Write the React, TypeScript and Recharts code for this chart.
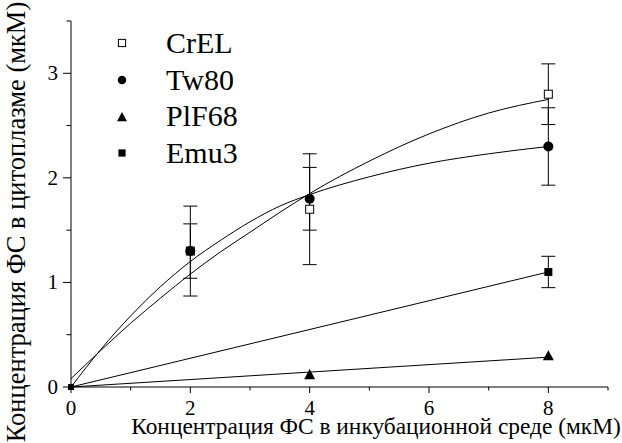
import { LineChart, Line, XAxis, YAxis, ErrorBar } from "recharts";

// measured points (mean ± sd)
const doseX = [0, 2, 4, 8];
const crelMean = [0, 1.3, 1.7, 2.8];
const crelSd = [0, 0.43, 0.53, 0.29];
const tw80Mean = [0, 1.3, 1.8, 2.3];
const tw80Sd = [0, 0.26, 0.3, 0.37];
const plfX = [0, 4, 8];
const plfMean = [0, 0.12, 0.3];
const emuX = [0, 8];
const emuMean = [0, 1.1];
const emuSd = [0, 0.15];

// fitted curves
const fitX = [0, 0.5, 1, 1.5, 2, 2.5, 3, 3.5, 4, 5, 6, 7, 8];
const crelFit = [0.08, 0.35, 0.61, 0.85, 1.08, 1.29, 1.48, 1.67, 1.85, 2.16, 2.42, 2.62, 2.75];
const tw80Fit = [0, 0.36, 0.68, 0.96, 1.2, 1.4, 1.58, 1.73, 1.84, 2.01, 2.14, 2.23, 2.3];
const lineFitX = [0, 8];
const plfFit = [0, 0.285];
const emuFit = [0, 1.1];

const xTicks = [0, 1, 2, 3, 4, 5, 6, 7, 8, 9];
const yTicks = [0, 0.5, 1, 1.5, 2, 2.5, 3, 3.5];
const seriesNames = ["CrEL", "Tw80", "PlF68", "Emu3"];
const seriesShapes = ["openSquare", "circle", "triangle", "square"];

const FONT = "Liberation Serif, Times New Roman, serif";

const toPoints = (xs: number[], ys: number[], sd?: number[]) =>
  xs.map((x, i) => ({ x, y: ys[i], sd: sd ? sd[i] : 0 }));

const crelData = toPoints(doseX, crelMean, crelSd);
const tw80Data = toPoints(doseX, tw80Mean, tw80Sd);
const plfData = toPoints(plfX, plfMean);
const emuData = toPoints(emuX, emuMean, emuSd);
const crelFitData = toPoints(fitX, crelFit);
const tw80FitData = toPoints(fitX, tw80Fit);
const plfFitData = toPoints(lineFitX, plfFit);
const emuFitData = toPoints(lineFitX, emuFit);

const Marker = ({ kind, cx, cy, scale = 1 }: any) => {
  if (kind === "circle") return <circle cx={cx} cy={cy} r={5 * scale} fill="#000" />;
  if (kind === "triangle") {
    const h = 5.5 * scale;
    return <polygon points={`${cx},${cy - h} ${cx + h},${cy + h * 0.85} ${cx - h},${cy + h * 0.85}`} fill="#000" />;
  }
  const s = 4 * scale;
  if (kind === "openSquare")
    return <rect x={cx - s} y={cy - s} width={2 * s} height={2 * s} fill="#fff" stroke="#000" strokeWidth={1} />;
  return <rect x={cx - s} y={cy - s} width={2 * s} height={2 * s} fill="#000" />;
};

const dotFor = (kind: string) => (p: any) =>
  <Marker key={`${kind}-${p.index}`} kind={kind} cx={p.cx} cy={p.cy} scale={p.payload.x === 0 ? 0.6 : 1} />;

const XTick = ({ x, y, payload }: any) => {
  const v = payload.value;
  const major = v % 2 === 0;
  return (
    <g>
      <line x1={x} x2={x} y1={y} y2={y + (major ? 6 : 3.5)} stroke="#000" />
      {major && v <= 8 && (
        <text x={x} y={y + 28} textAnchor="middle" fill="#000" fontFamily={FONT} fontSize={21}>{v}</text>
      )}
    </g>
  );
};

const YTick = ({ x, y, payload }: any) => {
  const v = payload.value;
  const major = Number.isInteger(v);
  return (
    <g>
      <line x1={x} x2={x - (major ? 8 : 4.5)} y1={y} y2={y} stroke="#000" />
      {major && (
        <text x={x - 13} y={y + 7} textAnchor="end" fill="#000" fontFamily={FONT} fontSize={21}>{v}</text>
      )}
    </g>
  );
};

const LegendBox = () => (
  <div style={{ position: "absolute", left: 0, top: 25, width: 260, fontFamily: FONT, fontSize: 30, color: "#000" }}>
    {seriesNames.map((name, i) => (
      <div key={name} style={{ position: "relative", height: 36.7, lineHeight: "36.7px" }}>
        <svg width={14} height={14} style={{ position: "absolute", left: 114.7, top: 11.4 }}>
          <Marker kind={seriesShapes[i]} cx={7} cy={7} scale={seriesShapes[i] === "circle" ? 0.85 : 0.9} />
        </svg>
        <span style={{ position: "absolute", left: 166, top: 0, whiteSpace: "nowrap" }}>{name}</span>
      </div>
    ))}
  </div>
);

export default function App() {
  return (
    <div style={{ position: "absolute", left: 0, top: 0, width: 622, height: 443, background: "#fff", fontFamily: FONT }}>
      <LineChart width={622} height={443} margin={{ top: 21, right: 14, bottom: 0, left: 0 }}>
        <XAxis
          type="number"
          dataKey="x"
          domain={[0, 9]}
          ticks={xTicks}
          allowDuplicatedCategory={false}
          height={56}
          tickSize={0}
          tickMargin={0}
          tickLine={false}
          tick={<XTick />}
          axisLine={{ stroke: "#000", strokeWidth: 1 }}
        />
        <YAxis
          type="number"
          dataKey="y"
          domain={[0, 3.5]}
          ticks={yTicks}
          width={71}
          tickSize={0}
          tickMargin={0}
          tickLine={false}
          tick={<YTick />}
          axisLine={{ stroke: "#000", strokeWidth: 1 }}
        />
        <Line data={crelFitData} dataKey="y" type="monotone" stroke="#000" strokeWidth={1} dot={false} isAnimationActive={false} />
        <Line data={tw80FitData} dataKey="y" type="monotone" stroke="#000" strokeWidth={1} dot={false} isAnimationActive={false} />
        <Line data={plfFitData} dataKey="y" type="linear" stroke="#000" strokeWidth={1} dot={false} isAnimationActive={false} />
        <Line data={emuFitData} dataKey="y" type="linear" stroke="#000" strokeWidth={1} dot={false} isAnimationActive={false} />
        <Line data={crelData} dataKey="y" stroke="none" dot={dotFor("openSquare")} isAnimationActive={false}>
          <ErrorBar dataKey="sd" direction="y" width={7} stroke="#000" strokeWidth={1} isAnimationActive={false} />
        </Line>
        <Line data={tw80Data} dataKey="y" stroke="none" dot={dotFor("circle")} isAnimationActive={false}>
          <ErrorBar dataKey="sd" direction="y" width={7} stroke="#000" strokeWidth={1} isAnimationActive={false} />
        </Line>
        <Line data={plfData} dataKey="y" stroke="none" dot={dotFor("triangle")} isAnimationActive={false} />
        <Line data={emuData} dataKey="y" stroke="none" dot={dotFor("square")} isAnimationActive={false}>
          <ErrorBar dataKey="sd" direction="y" width={7} stroke="#000" strokeWidth={1} isAnimationActive={false} />
        </Line>
        <text x={376} y={434} textAnchor="middle" fill="#000" fontFamily={FONT} fontSize={23.4}>
          Концентрация ФС в инкубационной среде (мкМ)
        </text>
        <text x={25} y={222} transform="rotate(-90 25 222)" textAnchor="middle" fill="#000" fontFamily={FONT} fontSize={26.5}>
          Концентрация ФС в цитоплазме (мкМ)
        </text>
      </LineChart>
      <LegendBox />
    </div>
  );
}
